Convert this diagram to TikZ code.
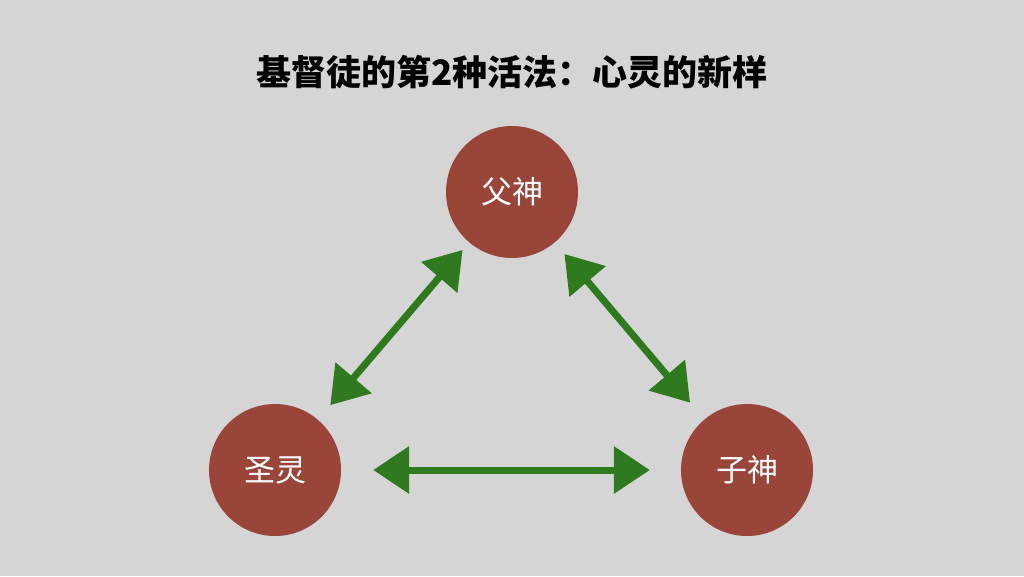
\documentclass[tikz,border=0pt]{standalone}
\usepackage{fontspec}
\newfontfamily\cjk{Noto Sans CJK SC}
\usepackage{tikz}
\usetikzlibrary{arrows.meta}
\usetikzlibrary{calc}
\usetikzlibrary{positioning}
\definecolor{slidegray}{HTML}{D5D5D5}
\definecolor{brick}{HTML}{99453A}
\definecolor{chalkgreen}{HTML}{2F7A1F}

\begin{document}
\begin{tikzpicture}[
            x=1pt, y=-1pt,
            person/.style = {circle, fill=brick, minimum size=132pt, inner sep=0, text=white, font=\cjk\fontsize{31}{34}\selectfont},
            heading/.style = {font=\cjk\bfseries\fontsize{35}{40}\selectfont},
            chalk/.style = {chalkgreen, line width=7pt, line join=round, {Triangle[length=36pt,width=46pt]}-{Triangle[length=36pt,width=46pt]}}
          ]
          \fill[slidegray] (0,0) rectangle (1024,576);
          \useasboundingbox (0,0) rectangle (1024,576);

          \node[heading] (title) at (512,72) {基督徒的第2种活法：心灵的新样};

          \node[person] (father) at (512,192) {父神};
          \node[person] (spirit) at (275,470) {圣灵};
          \node[person] (son) at (747,470) {子神};

          \draw[chalk, shorten <=10pt, shorten >=19pt] (father) -- (spirit);
          \draw[chalk, shorten <=15pt, shorten >=22pt] (father) -- (son);
          \draw[chalk, shorten <=32pt, shorten >=31pt] (spirit) -- (son);
        \end{tikzpicture}
\end{document}
